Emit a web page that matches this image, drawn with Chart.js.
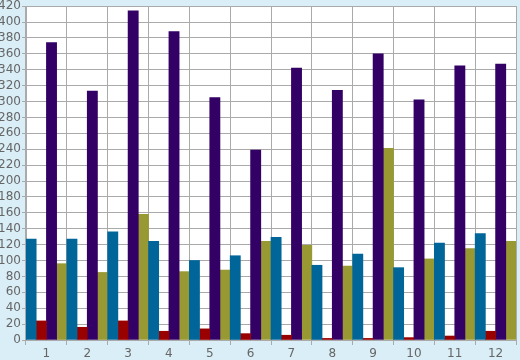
<!DOCTYPE html>
<html>
<head>
<meta charset="utf-8">
<script src="https://cdn.jsdelivr.net/npm/chart.js@4/dist/chart.umd.min.js"></script>
<style>
html,body{margin:0;padding:0;background:#d9eef6;}
#wrap{width:520px;height:360px;position:relative;}
</style>
</head>
<body>
<div id="wrap"><canvas id="c" width="520" height="360"></canvas></div>
<script>
const categories = ['1','2','3','4','5','6','7','8','9','10','11','12'];
const blueValues   = [127, 127, 136, 124, 100, 106, 129, 94, 108, 91, 122, 134];
const redValues    = [24, 16, 24, 11, 14, 8, 6, 2, 2, 3, 5, 11];
const purpleValues = [374, 313, 414, 388, 305, 239, 342, 314, 360, 302, 345, 347];
const oliveValues  = [96, 85, 158, 86, 88, 124, 119, 93, 241, 102, 115, 124];

const plotBg = {
  id: 'plotBg',
  beforeDraw(chart) {
    const {ctx, chartArea: a} = chart;
    ctx.save();
    ctx.fillStyle = '#ffffff';
    ctx.fillRect(a.left, a.top, a.right - a.left, a.bottom - a.top);
    ctx.restore();
  }
};

Chart.defaults.font.family = '"DejaVu Sans", sans-serif';
Chart.defaults.font.size = 12;
Chart.defaults.color = '#666666';

new Chart(document.getElementById('c'), {
  type: 'bar',
  data: {
    labels: categories,
    datasets: [
      {data: blueValues, backgroundColor: '#006699'},
      {data: redValues, backgroundColor: '#990000'},
      {data: purpleValues, backgroundColor: '#330066'},
      {data: oliveValues, backgroundColor: '#999933'}
    ]
  },
  options: {
    responsive: false,
    animation: false,
    devicePixelRatio: 1,
    layout: {padding: {top: 0, right: 4, left: 0, bottom: 0}},
    plugins: {legend: {display: false}, tooltip: {enabled: false}},
    datasets: {bar: {categoryPercentage: 1, barPercentage: 1, borderWidth: 0}},
    scales: {
      x: {
        grid: {color: '#aaaaaa', lineWidth: 1, tickLength: 5, offset: true},
        border: {color: '#aaaaaa'},
        ticks: {padding: 2, maxRotation: 0, autoSkip: false},
        afterFit(s) { s.height = 20; }
      },
      y: {
        min: 0, max: 420,
        grid: {color: '#aaaaaa', lineWidth: 1, tickLength: 4},
        border: {color: '#aaaaaa'},
        ticks: {stepSize: 20, padding: 1, autoSkip: false, font: {size: 12, lineHeight: 0.85}},
        afterFit(s) { s.width = 26; }
      }
    }
  },
  plugins: [plotBg]
});
</script>
</body>
</html>
